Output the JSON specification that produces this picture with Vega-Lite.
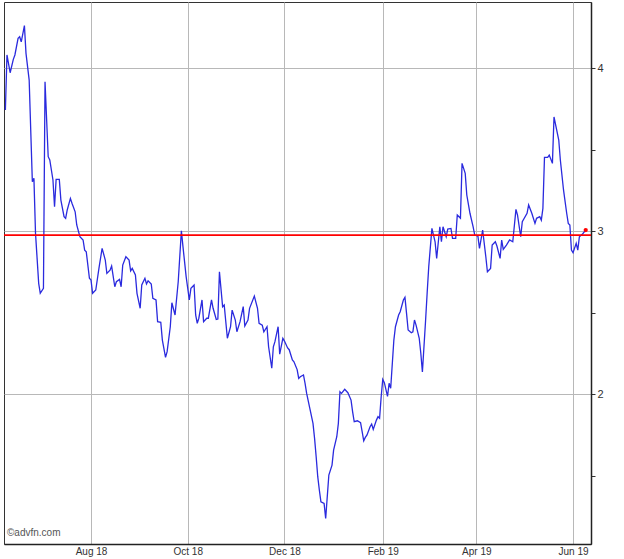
{
  "$schema": "https://vega.github.io/schema/vega-lite/v6.json",
  "width": 587,
  "height": 542,
  "autosize": "none",
  "padding": {"left": 4, "top": 2, "right": 33, "bottom": 15},
  "background": "white",
  "config": {"font": "Liberation Sans", "view": {"stroke": "#333333", "strokeWidth": 1}},
  "data": {"values": [
    {"date":"2018-06-08","price":3.742},{"date":"2018-06-09","price":4.080},{"date":"2018-06-11","price":3.971},{"date":"2018-06-13","price":4.053},{"date":"2018-06-14","price":4.080},{"date":"2018-06-16","price":4.182},{"date":"2018-06-17","price":4.192},{"date":"2018-06-18","price":4.161},{"date":"2018-06-20","price":4.260},{"date":"2018-06-21","price":4.090},{"date":"2018-06-23","price":3.926},{"date":"2018-06-25","price":3.302},{"date":"2018-06-26","price":3.323},{"date":"2018-06-27","price":2.986},{"date":"2018-06-29","price":2.679},{"date":"2018-06-30","price":2.618},
    {"date":"2018-07-02","price":2.648},{"date":"2018-07-03","price":3.916},{"date":"2018-07-05","price":3.456},{"date":"2018-07-06","price":3.436},{"date":"2018-07-08","price":3.313},{"date":"2018-07-09","price":3.149},{"date":"2018-07-10","price":3.317},{"date":"2018-07-12","price":3.317},{"date":"2018-07-13","price":3.190},{"date":"2018-07-15","price":3.088},{"date":"2018-07-16","price":3.078},{"date":"2018-07-17","price":3.129},{"date":"2018-07-19","price":3.200},{"date":"2018-07-20","price":3.170},{"date":"2018-07-22","price":3.118},{"date":"2018-07-23","price":3.037},{"date":"2018-07-25","price":2.965},{"date":"2018-07-27","price":2.945},{"date":"2018-07-28","price":2.883},{"date":"2018-07-29","price":2.873},{"date":"2018-07-31","price":2.710},
    {"date":"2018-08-01","price":2.699},{"date":"2018-08-02","price":2.618},{"date":"2018-08-04","price":2.638},{"date":"2018-08-06","price":2.771},{"date":"2018-08-08","price":2.894},{"date":"2018-08-10","price":2.822},{"date":"2018-08-11","price":2.740},{"date":"2018-08-13","price":2.760},{"date":"2018-08-14","price":2.785},{"date":"2018-08-16","price":2.658},{"date":"2018-08-17","price":2.689},{"date":"2018-08-19","price":2.703},{"date":"2018-08-20","price":2.658},{"date":"2018-08-21","price":2.791},{"date":"2018-08-23","price":2.842},{"date":"2018-08-25","price":2.822},{"date":"2018-08-26","price":2.755},{"date":"2018-08-27","price":2.771},{"date":"2018-08-29","price":2.730},{"date":"2018-08-30","price":2.618},
    {"date":"2018-09-01","price":2.526},{"date":"2018-09-02","price":2.669},{"date":"2018-09-04","price":2.710},{"date":"2018-09-05","price":2.675},{"date":"2018-09-06","price":2.695},{"date":"2018-09-08","price":2.675},{"date":"2018-09-09","price":2.587},{"date":"2018-09-11","price":2.577},{"date":"2018-09-12","price":2.444},{"date":"2018-09-14","price":2.440},{"date":"2018-09-15","price":2.331},{"date":"2018-09-17","price":2.225},{"date":"2018-09-18","price":2.260},{"date":"2018-09-20","price":2.413},{"date":"2018-09-21","price":2.560},{"date":"2018-09-23","price":2.485},{"date":"2018-09-25","price":2.689},{"date":"2018-09-27","price":3.002},{"date":"2018-09-28","price":2.904},{"date":"2018-09-30","price":2.720},
    {"date":"2018-10-02","price":2.577},{"date":"2018-10-03","price":2.648},{"date":"2018-10-05","price":2.669},{"date":"2018-10-06","price":2.485},{"date":"2018-10-07","price":2.434},{"date":"2018-10-08","price":2.465},{"date":"2018-10-10","price":2.577},{"date":"2018-10-11","price":2.444},{"date":"2018-10-13","price":2.465},{"date":"2018-10-14","price":2.465},{"date":"2018-10-16","price":2.577},{"date":"2018-10-17","price":2.526},{"date":"2018-10-19","price":2.458},{"date":"2018-10-20","price":2.460},{"date":"2018-10-21","price":2.750},{"date":"2018-10-23","price":2.536},{"date":"2018-10-24","price":2.546},{"date":"2018-10-26","price":2.342},{"date":"2018-10-28","price":2.413},{"date":"2018-10-29","price":2.515},{"date":"2018-10-31","price":2.454},
    {"date":"2018-11-01","price":2.382},{"date":"2018-11-03","price":2.444},{"date":"2018-11-05","price":2.536},{"date":"2018-11-06","price":2.417},{"date":"2018-11-08","price":2.454},{"date":"2018-11-09","price":2.526},{"date":"2018-11-12","price":2.601},{"date":"2018-11-14","price":2.526},{"date":"2018-11-15","price":2.434},{"date":"2018-11-17","price":2.423},{"date":"2018-11-18","price":2.382},{"date":"2018-11-20","price":2.413},{"date":"2018-11-21","price":2.290},{"date":"2018-11-23","price":2.158},{"date":"2018-11-24","price":2.290},{"date":"2018-11-25","price":2.321},{"date":"2018-11-27","price":2.413},{"date":"2018-11-28","price":2.245},{"date":"2018-11-30","price":2.342},
    {"date":"2018-12-01","price":2.325},{"date":"2018-12-03","price":2.283},{"date":"2018-12-04","price":2.272},{"date":"2018-12-06","price":2.209},{"date":"2018-12-07","price":2.198},{"date":"2018-12-09","price":2.150},{"date":"2018-12-10","price":2.096},{"date":"2018-12-11","price":2.106},{"date":"2018-12-13","price":2.117},{"date":"2018-12-14","price":2.066},{"date":"2018-12-15","price":2.004},{"date":"2018-12-17","price":1.912},{"date":"2018-12-19","price":1.820},{"date":"2018-12-20","price":1.728},{"date":"2018-12-21","price":1.615},{"date":"2018-12-22","price":1.493},{"date":"2018-12-23","price":1.411},{"date":"2018-12-24","price":1.339},{"date":"2018-12-26","price":1.329},{"date":"2018-12-27","price":1.237},{"date":"2018-12-29","price":1.503},{"date":"2018-12-31","price":1.564},
    {"date":"2019-01-01","price":1.656},{"date":"2019-01-03","price":1.738},{"date":"2019-01-04","price":1.820},{"date":"2019-01-05","price":2.014},{"date":"2019-01-06","price":2.004},{"date":"2019-01-08","price":2.029},{"date":"2019-01-10","price":2.008},{"date":"2019-01-12","price":1.963},{"date":"2019-01-13","price":1.891},{"date":"2019-01-14","price":1.830},{"date":"2019-01-16","price":1.836},{"date":"2019-01-18","price":1.824},{"date":"2019-01-19","price":1.769},{"date":"2019-01-20","price":1.713},{"date":"2019-01-21","price":1.734},{"date":"2019-01-22","price":1.748},{"date":"2019-01-24","price":1.799},{"date":"2019-01-25","price":1.816},{"date":"2019-01-26","price":1.783},{"date":"2019-01-28","price":1.840},{"date":"2019-01-29","price":1.861},{"date":"2019-01-30","price":1.851},{"date":"2019-01-31","price":1.983},
    {"date":"2019-02-01","price":2.090},{"date":"2019-02-02","price":2.070},{"date":"2019-02-04","price":1.985},{"date":"2019-02-05","price":2.066},{"date":"2019-02-06","price":2.035},{"date":"2019-02-08","price":2.331},{"date":"2019-02-09","price":2.413},{"date":"2019-02-11","price":2.485},{"date":"2019-02-12","price":2.505},{"date":"2019-02-14","price":2.577},{"date":"2019-02-15","price":2.593},{"date":"2019-02-16","price":2.495},{"date":"2019-02-17","price":2.393},{"date":"2019-02-19","price":2.376},{"date":"2019-02-20","price":2.382},{"date":"2019-02-21","price":2.454},{"date":"2019-02-22","price":2.423},{"date":"2019-02-24","price":2.342},{"date":"2019-02-25","price":2.250},{"date":"2019-02-26","price":2.135},{"date":"2019-02-28","price":2.450},
    {"date":"2019-03-01","price":2.620},{"date":"2019-03-02","price":2.781},{"date":"2019-03-04","price":3.016},{"date":"2019-03-06","price":2.934},{"date":"2019-03-07","price":2.832},{"date":"2019-03-09","price":3.026},{"date":"2019-03-10","price":2.934},{"date":"2019-03-11","price":3.026},{"date":"2019-03-13","price":2.965},{"date":"2019-03-14","price":3.012},{"date":"2019-03-16","price":3.016},{"date":"2019-03-17","price":2.955},{"date":"2019-03-19","price":2.955},{"date":"2019-03-20","price":3.098},{"date":"2019-03-22","price":3.078},{"date":"2019-03-23","price":3.415},{"date":"2019-03-25","price":3.354},{"date":"2019-03-26","price":3.221},{"date":"2019-03-28","price":3.109},{"date":"2019-03-30","price":3.026},{"date":"2019-03-31","price":2.975},
    {"date":"2019-04-02","price":2.969},{"date":"2019-04-03","price":2.894},{"date":"2019-04-05","price":3.006},{"date":"2019-04-07","price":2.842},{"date":"2019-04-08","price":2.750},{"date":"2019-04-10","price":2.771},{"date":"2019-04-11","price":2.914},{"date":"2019-04-13","price":2.934},{"date":"2019-04-14","price":2.908},{"date":"2019-04-16","price":2.832},{"date":"2019-04-17","price":2.945},{"date":"2019-04-18","price":2.888},{"date":"2019-04-20","price":2.914},{"date":"2019-04-22","price":2.945},{"date":"2019-04-24","price":2.934},{"date":"2019-04-26","price":3.133},{"date":"2019-04-27","price":3.098},{"date":"2019-04-29","price":2.965},{"date":"2019-04-30","price":3.057},
    {"date":"2019-05-03","price":3.109},{"date":"2019-05-04","price":3.160},{"date":"2019-05-06","price":3.109},{"date":"2019-05-08","price":3.047},{"date":"2019-05-09","price":3.078},{"date":"2019-05-11","price":3.088},{"date":"2019-05-12","price":3.067},{"date":"2019-05-13","price":3.139},{"date":"2019-05-14","price":3.452},{"date":"2019-05-16","price":3.452},{"date":"2019-05-17","price":3.466},{"date":"2019-05-19","price":3.415},{"date":"2019-05-20","price":3.700},{"date":"2019-05-23","price":3.558},{"date":"2019-05-24","price":3.436},{"date":"2019-05-26","price":3.252},{"date":"2019-05-28","price":3.109},{"date":"2019-05-29","price":3.047},{"date":"2019-05-30","price":3.037},{"date":"2019-05-31","price":2.883},
    {"date":"2019-06-01","price":2.867},{"date":"2019-06-03","price":2.924},{"date":"2019-06-04","price":2.883},{"date":"2019-06-05","price":2.965},{"date":"2019-06-07","price":2.982},{"date":"2019-06-09","price":3.006}
  ]},
  "encoding": {
    "x": {
      "field": "date", "type": "temporal",
      "scale": {"type": "utc", "domain": [
        {"year": 2018, "month": 6, "date": 7, "hours": 3, "utc": true},
        {"year": 2019, "month": 6, "date": 12, "hours": 8, "utc": true}
      ]},
      "axis": {
        "title": null,
        "values": [
          {"year": 2018, "month": 8, "date": 1, "utc": true},
          {"year": 2018, "month": 10, "date": 1, "utc": true},
          {"year": 2018, "month": 12, "date": 1, "utc": true},
          {"year": 2019, "month": 2, "date": 1, "utc": true},
          {"year": 2019, "month": 4, "date": 1, "utc": true},
          {"year": 2019, "month": 6, "date": 1, "utc": true}
        ],
        "format": "%b %y",
        "grid": true, "gridColor": "#b8b8b8", "gridWidth": 1,
        "ticks": false,
        "labelFlush": false, "labelOverlap": false,
        "labelPadding": 2, "labelFontSize": 10, "labelColor": "#333333",
        "domainColor": "#222222", "domainWidth": 1.5
      }
    },
    "y": {
      "field": "price", "type": "quantitative",
      "scale": {"domain": [1.08, 4.405], "nice": false, "zero": false},
      "axis": {
        "orient": "right", "title": null,
        "values": [1.5, 2, 2.5, 3, 3.5, 4],
        "labelExpr": "datum.value % 1 === 0 ? format(datum.value, 'd') : ''",
        "grid": true, "gridColor": "#b8b8b8",
        "gridOpacity": {"condition": {"test": "datum.value % 1 === 0", "value": 1}, "value": 0},
        "ticks": true, "tickSize": 4, "tickColor": "#333333",
        "labelPadding": 2, "labelFontSize": 11, "labelColor": "#333333",
        "domainColor": "#222222", "domainWidth": 1.5
      }
    }
  },
  "layer": [
    {"mark": {"type": "line", "color": "#2a2ade", "strokeWidth": 1.3}},
    {
      "data": {"values": [{"ref": 2.975}]},
      "mark": {"type": "rule", "color": "#ff0000", "strokeWidth": 1.6},
      "encoding": {"x": null, "y": {"field": "ref", "type": "quantitative"}}
    },
    {
      "data": {"values": [{"date": "2019-06-09", "price": 3.006}]},
      "mark": {"type": "point", "filled": true, "color": "#ff0000", "size": 18, "opacity": 1}
    },
    {
      "data": {"values": [{"date": "2018-06-09", "price": 1.117, "label": "©advfn.com"}]},
      "mark": {"type": "text", "align": "left", "baseline": "bottom", "fontSize": 10, "color": "#555555"},
      "encoding": {
        "text": {"field": "label", "type": "nominal"}
      }
    }
  ]
}
